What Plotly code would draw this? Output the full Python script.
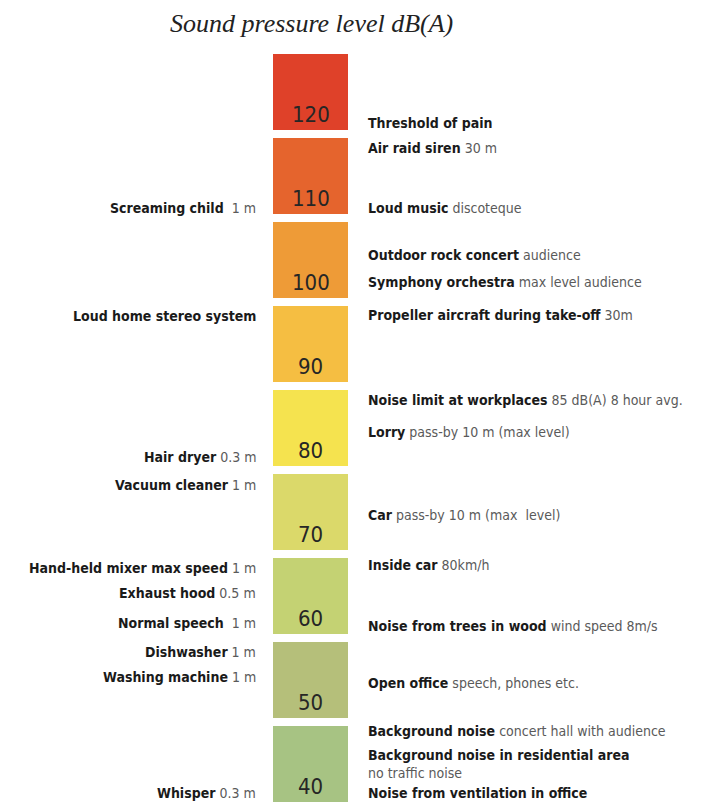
import plotly.graph_objects as go

# ---- data ----
levels = [120, 110, 100, 90, 80, 70, 60, 50, 40]
level_colors = ["#DF4129", "#E5642D", "#EE9B37", "#F5BE42", "#F5E34F",
                "#DBD96A", "#C4D273", "#B5BF7A", "#A7C383"]

left_names = ["Screaming child", "Loud home stereo system", "Hair dryer",
              "Vacuum cleaner", "Hand-held mixer max speed", "Exhaust hood",
              "Normal speech", "Dishwasher", "Washing machine", "Whisper"]
left_details = ["\u00a01 m", "", "0.3 m", "1 m", "1 m", "0.5 m",
                "\u00a01 m", "1 m", "1 m", "0.3 m"]
left_db = [108.8, 96.0, 79.2, 75.8, 66.0, 63.0, 59.4, 56.0, 53.0, 39.2]

right_names = ["Threshold of pain", "Air raid siren", "Loud music",
               "Outdoor rock concert", "Symphony orchestra",
               "Propeller aircraft during take-off",
               "Noise limit at workplaces", "Lorry", "Car", "Inside car",
               "Noise from trees in wood", "Open office", "Background noise",
               "Background noise in residential area", "",
               "Noise from ventilation in office"]
right_details = ["", "30 m", "discoteque", "audience", "max level audience",
                 "30m", "85 dB(A) 8 hour avg.", "pass-by 10 m (max level)",
                 "pass-by 10 m (max  level)", "80km/h", "wind speed 8m/s",
                 "speech, phones etc.", "concert hall with audience", "",
                 "no traffic noise", ""]
right_db = [118.9, 116.0, 108.8, 103.2, 100.0, 96.1, 86.0, 82.1, 72.3, 66.3,
            59.0, 52.3, 46.6, 43.7, 41.5, 39.2]

title_text = "Sound pressure level dB(A)"

# ---- style ----
W, H = 705, 804
OFF = 8  # page body margin of the written html
COND = "Liberation Sans Narrow, DejaVu Sans Condensed, Arial Narrow, sans-serif"
BLOCK_BELOW = 1.9   # dB below the label value
BLOCK_HEIGHT = 9.0  # dB

fig = go.Figure()
fig.add_trace(go.Bar(
    x=[310.5] * len(levels),
    y=[BLOCK_HEIGHT] * len(levels),
    base=[v - BLOCK_BELOW for v in levels],
    width=75,
    marker=dict(color=level_colors, line=dict(width=0)),
    hoverinfo="skip",
    textposition="none",
))

annotations = []
for v in levels:
    annotations.append(dict(
        x=310.5, y=v, xref="x", yref="y", text=str(v), showarrow=False,
        font=dict(family=COND, size=22, color="#262626"),
        xanchor="center", yanchor="middle"))


def label(name, detail):
    parts = []
    if name:
        parts.append("<b>%s</b>" % name)
    if detail:
        parts.append("<span style='color:#5a5a5a'>%s</span>" % detail)
    return " ".join(parts)


for n, d, v in zip(left_names, left_details, left_db):
    annotations.append(dict(
        x=258, y=v, xref="x", yref="y", text=label(n, d), showarrow=False,
        font=dict(family=COND, size=14, color="#1a1a1a"),
        xanchor="right", yanchor="middle"))

for n, d, v in zip(right_names, right_details, right_db):
    annotations.append(dict(
        x=366, y=v, xref="x", yref="y", text=label(n, d), showarrow=False,
        font=dict(family=COND, size=14, color="#1a1a1a"),
        xanchor="left", yanchor="middle"))

annotations.append(dict(
    x=(311 - OFF) / W, y=1, xref="paper", yref="paper",
    text="<i>%s</i>" % title_text, showarrow=False,
    font=dict(family="Liberation Serif, DejaVu Serif, serif", size=26,
              color="#222222"),
    xanchor="center", yanchor="top", borderpad=0))

px_per_db = 8.4
y_top = 120 + (114 - OFF) / px_per_db
y_bot = 120 - (H - (114 - OFF)) / px_per_db

fig.update_layout(
    width=W, height=H,
    margin=dict(l=0, r=0, t=0, b=0),
    paper_bgcolor="white", plot_bgcolor="white",
    showlegend=False,
    xaxis=dict(range=[OFF, W + OFF], visible=False, fixedrange=True),
    yaxis=dict(range=[y_bot, y_top], visible=False, fixedrange=True),
    annotations=annotations,
    bargap=0,
)

fig.write_html("out.html")
